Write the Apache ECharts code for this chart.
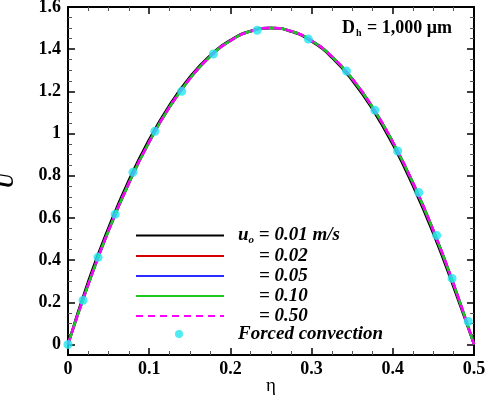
<!DOCTYPE html>
<html>
<head>
<meta charset="utf-8">
<script src="https://cdn.jsdelivr.net/npm/echarts@6/dist/echarts.min.js"></script>
<style>
    html, body { margin: 0; padding: 0; background: #fff; }
    #main { width: 491px; height: 405px; }
</style>
</head>
<body>
<div id="main"></div>
<script>
// eta positions of the curves
var eta = [0, 0.025, 0.05, 0.075, 0.1, 0.125, 0.15, 0.175, 0.2, 0.225, 0.25,
           0.275, 0.3, 0.325, 0.35, 0.375, 0.4, 0.425, 0.45, 0.475, 0.5];
// u_o = 0.01 (sits a hair to the left)
var uSlow = [0, 0.30, 0.555, 0.78, 0.972, 1.135, 1.268, 1.37, 1.443, 1.487, 1.5,
             1.483, 1.437, 1.36, 1.252, 1.115, 0.948, 0.75, 0.525, 0.27, 0];
// u_o = 0.02 .. 0.50 (all on top of each other)
var uFast = [0, 0.285, 0.54, 0.765, 0.96, 1.125, 1.26, 1.365, 1.44, 1.485, 1.5,
             1.485, 1.44, 1.365, 1.26, 1.125, 0.96, 0.765, 0.54, 0.285, 0];
// forced convection dots
var forcedEta = [0, 0.0185, 0.037, 0.058, 0.080, 0.107, 0.140, 0.179, 0.233,
                 0.296, 0.343, 0.378, 0.406, 0.432, 0.454, 0.473, 0.493];
var forcedU = [0, 0.209, 0.413, 0.617, 0.817, 1.011, 1.20, 1.377, 1.49,
               1.448, 1.296, 1.11, 0.917, 0.72, 0.517, 0.313, 0.109];

var velocities = ['0.01', '0.02', '0.05', '0.10', '0.50'];
var colors = ['#000000', '#d60000', '#2b2bff', '#1ec81e', '#ff00ff'];

var serif = 'Liberation Serif';

function pairs(xs, ys) {
    var out = [];
    for (var i = 0; i < xs.length; i++) {
        out.push([xs[i], ys[i]]);
    }
    return out;
}

var series = [];
for (var k = 0; k < velocities.length; k++) {
    series.push({
        name: velocities[k],
        type: 'line',
        smooth: true,
        symbol: 'none',
        showSymbol: false,
        z: 2 + k,
        lineStyle: {
            color: colors[k],
            width: 2.5,
            type: k == 4 ? [7, 5] : 'solid'
        },
        itemStyle: { color: colors[k] },
        data: pairs(eta, k == 0 ? uSlow : uFast)
    });
}
series.push({
    name: 'Forced convection',
    type: 'scatter',
    symbol: 'circle',
    symbolSize: 9,
    z: 10,
    itemStyle: { color: '#22e6f0' },
    data: pairs(forcedEta, forcedU)
});

var txt = { fontFamily: serif, fontWeight: 'bold', fontStyle: 'italic', fontSize: 19, color: '#000' };

var myChart = echarts.init(document.getElementById('main'));

option = {
    backgroundColor: '#ffffff',
    animation: false,
    grid: { left: 68, right: 17, top: 7, bottom: 50, containLabel: false, outerBoundsMode: 'none' },
    title: {
        left: 342,
        top: 18,
        padding: 0,
        text: '{a|D}{s|h}{a| = 1,000 μm}',
        textStyle: {
            rich: {
                a: { fontFamily: serif, fontWeight: 'bold', fontSize: 18, color: '#000' },
                s: { fontFamily: serif, fontWeight: 'bold', fontSize: 10, color: '#000', verticalAlign: 'bottom', padding: [10, 1, 0, 1] }
            }
        }
    },
    legend: [{
        data: velocities,
        orient: 'vertical',
        left: 135,
        top: 226,
        padding: 0,
        itemWidth: 88,
        itemHeight: 14,
        itemGap: 1,
        selectedMode: false,
        itemStyle: { opacity: 0 },
        formatter: function(name) {
            if (name == '0.01') {
                return '{pad|}{i|u}{sub|o}{t| = 0.01 m/s}';
            }
            return '{pad2|}{t|= ' + name + '}';
        },
        textStyle: {
            rich: {
                pad: { width: 9 },
                pad2: { width: 30 },
                i: txt,
                t: txt,
                sub: { fontFamily: serif, fontWeight: 'bold', fontStyle: 'italic', fontSize: 11, color: '#000', padding: [9, 0, 0, 0] }
            }
        }
    }, {
        data: ['Forced convection'],
        orient: 'vertical',
        left: 175,
        top: 324.5,
        padding: 0,
        itemWidth: 8,
        itemHeight: 8,
        selectedMode: false,
        formatter: '{pad|}{t|{name}}',
        textStyle: {
            rich: {
                pad: { width: 50 },
                t: txt
            }
        }
    }],
    xAxis: [{
        type: 'value',
        min: 0,
        max: 0.5,
        interval: 0.1,
        name: 'η',
        nameLocation: 'middle',
        nameGap: 22,
        nameMoveOverlap: false,
        nameTextStyle: { fontFamily: serif, fontSize: 19, color: '#000' },
        axisLine: { onZero: false, lineStyle: { color: '#000', width: 2 } },
        axisTick: { inside: true, length: 7, lineStyle: { color: '#000', width: 1.5 } },
        minorTick: { show: true, splitNumber: 4, length: 4, lineStyle: { color: '#555', width: 1 } },
        axisLabel: { fontFamily: serif, fontWeight: 'bold', fontSize: 18, color: '#000', margin: 5 },
        splitLine: { show: false }
    }, {
        type: 'value',
        position: 'top',
        min: 0,
        max: 0.5,
        interval: 0.1,
        axisLine: { onZero: false, lineStyle: { color: '#000', width: 2 } },
        axisTick: { inside: true, length: 7, lineStyle: { color: '#000', width: 1.5 } },
        minorTick: { show: true, splitNumber: 4, length: 4, lineStyle: { color: '#555', width: 1 } },
        axisLabel: { show: false },
        splitLine: { show: false }
    }],
    yAxis: [{
        type: 'value',
        min: -0.05,
        max: 1.6,
        splitNumber: 8,
        name: 'U',
        nameLocation: 'middle',
        nameGap: 50,
        nameMoveOverlap: false,
        nameTextStyle: { fontFamily: serif, fontWeight: 'bold', fontStyle: 'italic', fontSize: 21, color: '#000' },
        axisLine: { onZero: false, lineStyle: { color: '#000', width: 2 } },
        axisTick: { inside: true, length: 7, lineStyle: { color: '#000', width: 1.5 } },
        minorTick: { show: true, splitNumber: 4, length: 4, lineStyle: { color: '#555', width: 1 } },
        axisLabel: {
            fontFamily: serif, fontWeight: 'bold', fontSize: 18, color: '#000', margin: 7,
            showMinLabel: false,
            formatter: function(v) {
                return v < 0 ? '' : String(Math.round(v * 10) / 10);
            }
        },
        splitLine: { show: false }
    }, {
        type: 'value',
        position: 'right',
        min: -0.05,
        max: 1.6,
        splitNumber: 8,
        axisLine: { onZero: false, lineStyle: { color: '#000', width: 2 } },
        axisTick: { inside: true, length: 7, lineStyle: { color: '#000', width: 1.5 } },
        minorTick: { show: true, splitNumber: 4, length: 4, lineStyle: { color: '#555', width: 1 } },
        axisLabel: { show: false },
        splitLine: { show: false }
    }],
    series: series
};

myChart.setOption(option);
</script>
</body>
</html>
